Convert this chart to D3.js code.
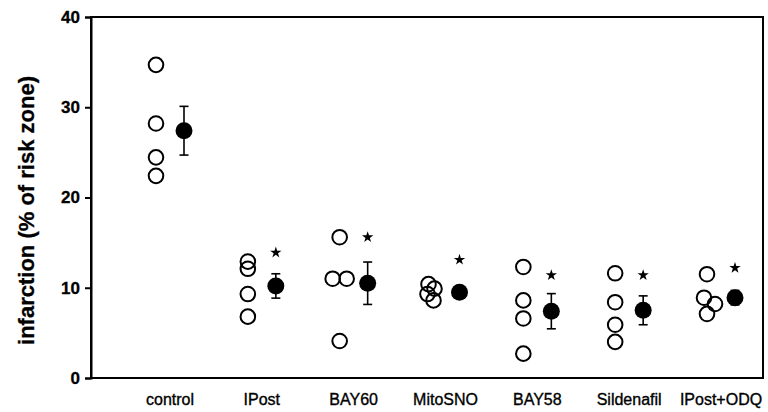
<!DOCTYPE html>
<html>
<head>
<meta charset="utf-8">
<script src="https://cdn.jsdelivr.net/npm/d3@7.9.0/dist/d3.min.js"></script>
<style>
  body { margin: 0; background: #fff; }
  svg { display: block; font-family: "Liberation Sans", Arial, sans-serif; }
</style>
</head>
<body>
<svg id="chart" width="768" height="412"></svg>
<script>
// groups along the x axis
const groups = ['control', 'IPost', 'BAY60', 'MitoSNO', 'BAY58', 'Sildenafil', 'IPost+ODQ'];

// individual hearts (open circles)
const individual = [
  [34.7, 28.2, 24.45, 22.4],
  [12.9, 12.1, 9.3, 6.8],
  [15.6, 11.0, 11.0, 4.1],
  [10.4, 9.9, 9.3, 8.6],
  [12.3, 8.6, 6.6, 2.7],
  [11.6, 8.4, 5.9, 4.0],
  [11.5, 8.9, 8.2, 7.1]
];
// little sideways nudges so overlapping circles show (px)
const jitter = [
  [0, 0, 0, 0],
  [0, 0, 0, 0],
  [0, -7, 7, 0],
  [-3, 3, -4, 2],
  [0, 0, 0, 0],
  [0, 0, 0, 0],
  [0, -3, 8, 0]
];

// mean +/- sem (filled circles)
const means = [27.4, 10.2, 10.5, 9.5, 7.4, 7.5, 8.9];
const sems = [2.7, 1.35, 2.35, 0.35, 1.95, 1.6, 0.8];
// significance stars (y position in data units, null = none)
const stars = [null, 13.9, 15.6, 13.1, 11.4, 11.4, 12.2];

const yTicks = [0, 10, 20, 30, 40];

const svg = d3.select('#chart');
const margin = { left: 91, right: 5, top: 17, bottom: 34 };
const W = 768, H = 412;

const x = d3.scalePoint()
  .domain(groups)
  .range([169, 720]);

const y = d3.scaleLinear()
  .domain([0, 40])
  .range([H - margin.bottom, margin.top]);

// frame
svg.append('rect')
  .attr('x', margin.left)
  .attr('y', margin.top)
  .attr('width', W - margin.right - margin.left)
  .attr('height', y(0) - margin.top)
  .attr('fill', 'none')
  .attr('stroke', '#000')
  .attr('stroke-width', 2);

// y axis
const yAxis = svg.append('g')
  .attr('transform', `translate(${margin.left},0)`)
  .call(d3.axisLeft(y).tickValues(yTicks).tickSize(6).tickPadding(5));
yAxis.select('.domain').attr('stroke-width', 2);
yAxis.selectAll('.tick line').attr('stroke-width', 2);
yAxis.selectAll('.tick text')
  .attr('font-size', 17)
  .attr('font-weight', 'bold')
  .attr('fill', '#000')
  .attr('stroke', '#000')
  .attr('stroke-width', 0.3)
  .attr('font-family', '"Liberation Sans", Arial, sans-serif');

svg.append('text')
  .attr('transform', `translate(34,${(margin.top + y(0)) / 2 + 13}) rotate(-90)`)
  .attr('text-anchor', 'middle')
  .attr('font-size', 22)
  .attr('font-weight', 'bold')
  .attr('stroke', '#000')
  .attr('stroke-width', 0.3)
  .text('infarction (% of risk zone)');

// x labels
svg.append('g')
  .selectAll('text')
  .data(groups)
  .join('text')
  .attr('x', d => x(d) + 1)
  .attr('y', 405)
  .attr('text-anchor', 'middle')
  .attr('font-size', 16)
  .attr('stroke', '#000')
  .attr('stroke-width', 0.35)
  .text(d => d);

// open circles
const pts = [];
groups.forEach((g, i) => {
  individual[i].forEach((v, j) => pts.push({ g, v, dx: jitter[i][j] }));
});

svg.append('g')
  .selectAll('circle')
  .data(pts)
  .join('circle')
  .attr('cx', d => x(d.g) - 13 + d.dx)
  .attr('cy', d => y(d.v))
  .attr('r', 7.3)
  .attr('fill', 'none')
  .attr('stroke', '#000')
  .attr('stroke-width', 2);

// error bars
const summary = groups.map((g, i) => ({ g, m: means[i], s: sems[i], star: stars[i] }));
const eb = svg.append('g').attr('stroke', '#000').attr('stroke-width', 1.6);
summary.forEach(d => {
  const cx = x(d.g) + 15;
  eb.append('line')
    .attr('x1', cx).attr('x2', cx)
    .attr('y1', y(d.m + d.s)).attr('y2', y(d.m - d.s));
  [d.m + d.s, d.m - d.s].forEach(v => {
    eb.append('line')
      .attr('x1', cx - 4.5).attr('x2', cx + 4.5)
      .attr('y1', y(v)).attr('y2', y(v));
  });
});

// means
svg.append('g')
  .selectAll('circle')
  .data(summary)
  .join('circle')
  .attr('cx', d => x(d.g) + 15)
  .attr('cy', d => y(d.m))
  .attr('r', 8.5)
  .attr('fill', '#000');

// stars
svg.append('g')
  .selectAll('path')
  .data(summary.filter(d => d.star != null))
  .join('path')
  .attr('d', d3.symbol().type(d3.symbolStar).size(40))
  .attr('transform', d => `translate(${x(d.g) + 15},${y(d.star)})`)
  .attr('fill', '#000');
</script>
</body>
</html>
